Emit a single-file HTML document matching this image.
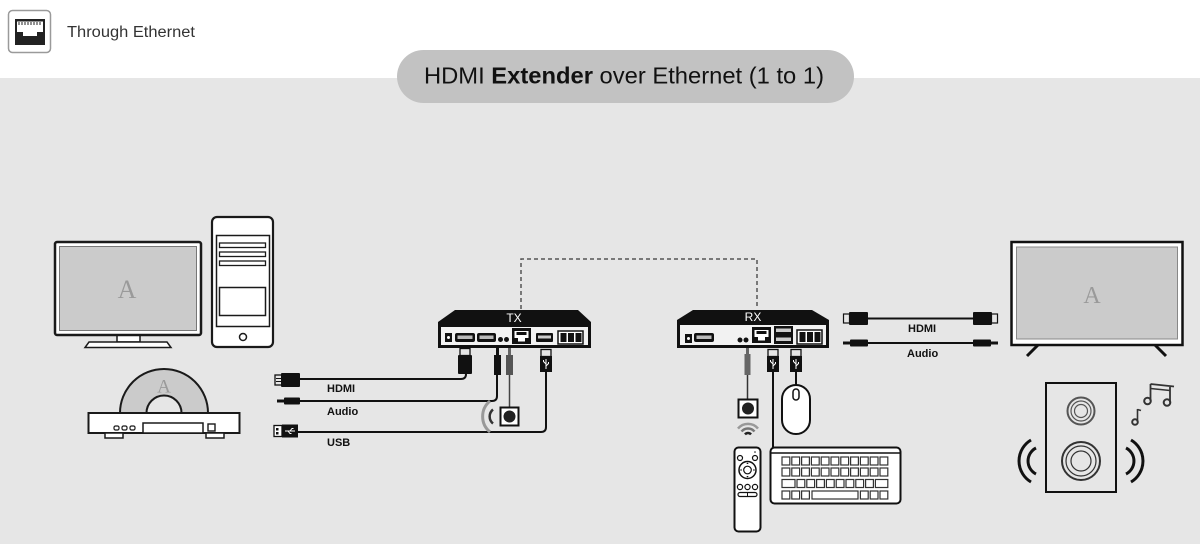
<!DOCTYPE html>
<html><head><meta charset="utf-8"><style>
html,body{margin:0;padding:0;width:1200px;height:544px;overflow:hidden;background:#e6e6e6}
svg{display:block}
text{font-family:"Liberation Sans",Arial,sans-serif}
.serif{font-family:"Liberation Serif","DejaVu Serif",serif}
</style></head><body>
<svg width="1200" height="544" viewBox="0 0 1200 544" xmlns="http://www.w3.org/2000/svg">
<rect width="1200" height="544" fill="#e6e6e6"/>
<rect width="1200" height="78" fill="#ffffff"/>

<!-- header icon -->
<rect x="8.5" y="10.5" width="42" height="42" rx="4" fill="#fff" stroke="#9a9a9a" stroke-width="1.5"/>
<rect x="15" y="19" width="30" height="26" fill="#222"/>
<path d="M17 21.5 H43 V32 H37 V36 H23 V32 H17 Z" fill="#fff"/>
<g stroke="#222" stroke-width="1">
<line x1="19" y1="22" x2="19" y2="25"/><line x1="22" y1="22" x2="22" y2="25"/><line x1="25" y1="22" x2="25" y2="25"/><line x1="28" y1="22" x2="28" y2="25"/><line x1="31" y1="22" x2="31" y2="25"/><line x1="34" y1="22" x2="34" y2="25"/><line x1="37" y1="22" x2="37" y2="25"/><line x1="40" y1="22" x2="40" y2="25"/>
</g>
<text x="67" y="37" font-size="15.5" fill="#333" textLength="128" lengthAdjust="spacingAndGlyphs">Through Ethernet</text>

<!-- title pill -->
<rect x="397" y="50" width="457" height="53" rx="26.5" fill="#c2c2c2"/>
<text x="424" y="83.5" font-size="23" fill="#111" textLength="400" lengthAdjust="spacingAndGlyphs">HDMI <tspan font-weight="bold">Extender</tspan> over Ethernet (1 to 1)</text>

<!-- left monitor -->
<rect x="55" y="242" width="146" height="93" rx="2" fill="#fff" stroke="#1a1a1a" stroke-width="2.5"/>
<rect x="59.5" y="246.5" width="137" height="84" fill="#cbcbcb" stroke="#777" stroke-width="1"/>
<text x="127" y="298" class="serif" font-size="26" fill="#9a9a9a" text-anchor="middle">A</text>
<rect x="117" y="335.5" width="23" height="6.5" fill="#fff" stroke="#1a1a1a" stroke-width="1.5"/>
<path d="M89 342 H167 L171 347.5 H85 Z" fill="#fff" stroke="#1a1a1a" stroke-width="1.5"/>

<!-- PC tower -->
<rect x="212" y="217" width="61" height="130" rx="5" fill="#fff" stroke="#1a1a1a" stroke-width="2.2"/>
<rect x="216.5" y="235.5" width="53" height="91" fill="#fff" stroke="#1a1a1a" stroke-width="1.5"/>
<rect x="219.5" y="243" width="46" height="4.5" fill="#fff" stroke="#1a1a1a" stroke-width="1.3"/>
<rect x="219.5" y="252" width="46" height="4.5" fill="#fff" stroke="#1a1a1a" stroke-width="1.3"/>
<rect x="219.5" y="261" width="46" height="4.5" fill="#fff" stroke="#1a1a1a" stroke-width="1.3"/>
<rect x="219.5" y="287.5" width="46" height="28" fill="#fff" stroke="#1a1a1a" stroke-width="1.5"/>
<circle cx="243" cy="337" r="3.5" fill="none" stroke="#1a1a1a" stroke-width="1.5"/>

<!-- DVD player -->
<path d="M120 413 A44 44 0 0 1 208 413 Z" fill="#cbcbcb" stroke="#1a1a1a" stroke-width="2"/>
<path d="M146.5 413 A17.5 17.5 0 0 1 181.5 413 Z" fill="#e6e6e6" stroke="#1a1a1a" stroke-width="2"/>
<text x="164" y="392.5" class="serif" font-size="19" fill="#9a9a9a" text-anchor="middle">A</text>
<rect x="88.5" y="413" width="151" height="20" fill="#fff" stroke="#1a1a1a" stroke-width="2"/>
<rect x="105" y="433" width="18" height="5" fill="#fff" stroke="#1a1a1a" stroke-width="1.5"/>
<rect x="206" y="433" width="18" height="5" fill="#fff" stroke="#1a1a1a" stroke-width="1.5"/>
<rect x="114" y="426" width="5" height="4" rx="1.5" fill="#fff" stroke="#1a1a1a" stroke-width="1.2"/>
<rect x="122" y="426" width="5" height="4" rx="1.5" fill="#fff" stroke="#1a1a1a" stroke-width="1.2"/>
<rect x="130" y="426" width="5" height="4" rx="1.5" fill="#fff" stroke="#1a1a1a" stroke-width="1.2"/>
<rect x="143" y="423" width="60" height="10" fill="#fff" stroke="#1a1a1a" stroke-width="1.5"/>
<rect x="208" y="424" width="7" height="7" fill="#fff" stroke="#1a1a1a" stroke-width="1.4"/>

<!-- dashed ethernet link -->
<path d="M521 309 V259 H757 V309" fill="none" stroke="#555" stroke-width="1.5" stroke-dasharray="4 3"/>

<!-- TX box -->
<path d="M438 322 L455 310 H578 L591 322 V348 H438 Z" fill="#111"/>
<rect x="441" y="327" width="147" height="18" fill="#f2f2f2"/>
<text x="514" y="322" font-size="12" fill="#fff" text-anchor="middle">TX</text>
<rect x="445" y="333" width="7" height="9" fill="#111"/><circle cx="448.5" cy="337.5" r="1.5" fill="#fff"/>
<rect x="455" y="333" width="20" height="9" rx="2" fill="#111"/><rect x="457.5" y="335.5" width="15" height="3.5" fill="#bbb"/>
<rect x="477" y="333" width="19" height="9" rx="2" fill="#111"/><rect x="479.5" y="335.5" width="14" height="3.5" fill="#bbb"/>
<circle cx="500.5" cy="339.5" r="2.5" fill="#111"/><circle cx="506.5" cy="339.5" r="2.5" fill="#111"/>
<rect x="512" y="328" width="19" height="16" fill="#111"/><path d="M514.5 331 H528.5 V338 H525 V341.5 H518 V338 H514.5 Z" fill="#fff"/><rect x="516.5" y="332" width="10" height="3" fill="#111"/>
<rect x="536" y="333" width="17" height="9" rx="1" fill="#111"/><rect x="538" y="335.5" width="13" height="3" fill="#ccc"/>
<rect x="558" y="331" width="25" height="13" fill="#fff" stroke="#111" stroke-width="1.5"/>
<rect x="560.5" y="333" width="6" height="9" fill="#111"/><rect x="568" y="333" width="6" height="9" fill="#111"/><rect x="575.5" y="333" width="6" height="9" fill="#111"/>

<!-- TX plugs & cables -->
<path d="M300 379 H461 Q466 379 466 374" fill="none" stroke="#111" stroke-width="2"/>
<path d="M300 401 H492 Q497 401 497 396 V375" fill="none" stroke="#111" stroke-width="2"/>
<path d="M298 432 H541 Q546 432 546 427 V372" fill="none" stroke="#111" stroke-width="2"/>
<line x1="509.5" y1="375" x2="509.5" y2="408" stroke="#444" stroke-width="1.5"/>
<rect x="460" y="348.5" width="10" height="7" fill="#e6e6e6" stroke="#111" stroke-width="1.3"/>
<rect x="458" y="355" width="14" height="19" rx="1" fill="#111"/>
<rect x="496" y="348" width="3" height="8" fill="#111"/><rect x="494" y="355" width="7" height="20" fill="#111"/>
<rect x="508" y="348" width="3" height="8" fill="#666"/><rect x="506" y="355" width="7" height="20" fill="#555"/>
<rect x="541" y="349.5" width="10" height="7" fill="#e6e6e6" stroke="#111" stroke-width="1.3"/>
<rect x="540" y="356" width="12" height="16" fill="#111"/>
<path d="M546 359 V369 M546 364 L543.5 361.5 V360 M546 366 L548.5 363.5 V362" stroke="#fff" stroke-width="1" fill="none"/>
<rect x="500.5" y="407.5" width="18" height="18" fill="#fff" stroke="#111" stroke-width="2"/>
<circle cx="509.5" cy="416.5" r="6" fill="#222"/>
<path d="M490 401 A20 20 0 0 0 490 432" fill="none" stroke="#999" stroke-width="3"/>
<path d="M493 409.5 A9 9 0 0 0 493 423.5" fill="none" stroke="#333" stroke-width="2.5"/>
<rect x="275" y="375" width="7" height="10" fill="#e6e6e6" stroke="#111" stroke-width="1.3"/>
<line x1="276" y1="378.5" x2="281" y2="378.5" stroke="#111" stroke-width="1"/><line x1="276" y1="381.5" x2="281" y2="381.5" stroke="#111" stroke-width="1"/>
<rect x="281" y="373" width="19" height="14" rx="1" fill="#111"/>
<rect x="277" y="399.5" width="8" height="3" fill="#111"/>
<rect x="284" y="397.5" width="16" height="7" rx="1" fill="#111"/>
<rect x="274" y="425.5" width="8" height="11" fill="#fff" stroke="#111" stroke-width="1.3"/>
<rect x="276" y="428" width="2.5" height="2.5" fill="#111"/><rect x="276" y="432" width="2.5" height="2.5" fill="#111"/>
<rect x="282" y="424.5" width="16" height="13" fill="#111"/>
<path d="M285 431 H295 M290 431 L292 428.5 H293.5 M288 431 L290 433.5 H291.5" stroke="#fff" stroke-width="1" fill="none"/>
<text x="327" y="392" font-size="11" font-weight="bold" fill="#111">HDMI</text>
<text x="327" y="415" font-size="11" font-weight="bold" fill="#111">Audio</text>
<text x="327" y="446" font-size="11" font-weight="bold" fill="#111">USB</text>

<!-- RX box -->
<path d="M677 320 L693 310 H812 L829 320 V348 H677 Z" fill="#111"/>
<rect x="680" y="325" width="146" height="20" fill="#f2f2f2"/>
<text x="753" y="321" font-size="12" fill="#fff" text-anchor="middle">RX</text>
<rect x="685" y="334" width="7" height="9" fill="#111"/><circle cx="688.5" cy="338.5" r="1.5" fill="#fff"/>
<rect x="694" y="333" width="20" height="9" rx="2" fill="#111"/><rect x="696.5" y="335.5" width="15" height="3.5" fill="#bbb"/>
<circle cx="740" cy="340" r="2.5" fill="#111"/><circle cx="746" cy="340" r="2.5" fill="#111"/>
<rect x="752" y="327" width="19" height="16" fill="#111"/><path d="M754.5 330 H768.5 V337 H765 V340.5 H758 V337 H754.5 Z" fill="#fff"/><rect x="756.5" y="331" width="10" height="3" fill="#111"/>
<rect x="774" y="326" width="19" height="18" fill="#111"/>
<rect x="776" y="328.5" width="15" height="3.5" fill="#ccc"/><rect x="776" y="337.5" width="15" height="3.5" fill="#ccc"/>
<rect x="797" y="330" width="25" height="14" fill="#fff" stroke="#111" stroke-width="1.5"/>
<rect x="799.5" y="332" width="6" height="10" fill="#111"/><rect x="807" y="332" width="6" height="10" fill="#111"/><rect x="814.5" y="332" width="6" height="10" fill="#111"/>

<!-- RX plugs -->
<rect x="746" y="348" width="3" height="7" fill="#666"/><rect x="744.5" y="354" width="6" height="21" fill="#666"/>
<line x1="747.5" y1="375" x2="747.5" y2="400" stroke="#333" stroke-width="1.5"/>
<rect x="738.5" y="399.5" width="19" height="18" fill="#fff" stroke="#111" stroke-width="2"/>
<circle cx="748" cy="408.5" r="6" fill="#222"/>
<rect x="768" y="349.5" width="10" height="7" fill="#e6e6e6" stroke="#111" stroke-width="1.3"/>
<rect x="767" y="356" width="12" height="16" fill="#111"/>
<path d="M773 359 V369 M773 364 L770.5 361.5 V360 M773 366 L775.5 363.5 V362" stroke="#fff" stroke-width="1" fill="none"/>
<rect x="791" y="349.5" width="10" height="7" fill="#e6e6e6" stroke="#111" stroke-width="1.3"/>
<rect x="790" y="356" width="12" height="16" fill="#111"/>
<path d="M796 359 V369 M796 364 L793.5 361.5 V360 M796 366 L798.5 363.5 V362" stroke="#fff" stroke-width="1" fill="none"/>
<line x1="773" y1="372" x2="773" y2="448" stroke="#111" stroke-width="2"/>
<line x1="796" y1="372" x2="796" y2="386" stroke="#111" stroke-width="2"/>

<!-- mouse -->
<rect x="782" y="385" width="28" height="49" rx="14" fill="#fff" stroke="#111" stroke-width="2"/>
<rect x="793" y="389" width="6" height="11" rx="3" fill="#fff" stroke="#111" stroke-width="1.5"/>

<!-- wifi & remote -->
<path d="M738 428.6 A13 13 0 0 1 758 428.6" fill="none" stroke="#999" stroke-width="2.5"/>
<path d="M741.5 431.5 A8.5 8.5 0 0 1 754.5 431.5" fill="none" stroke="#777" stroke-width="2.5"/>
<path d="M745 434.4 A4 4 0 0 1 751 434.4" fill="none" stroke="#222" stroke-width="2.5"/>
<rect x="734.5" y="447.5" width="26" height="84" rx="4" fill="#fff" stroke="#111" stroke-width="2"/>
<circle cx="740" cy="458" r="2.5" fill="#fff" stroke="#111" stroke-width="1.2"/>
<circle cx="755" cy="458" r="2.5" fill="#fff" stroke="#111" stroke-width="1.2"/>
<circle cx="755" cy="452" r="0.8" fill="#111"/>
<circle cx="747.5" cy="470" r="8.5" fill="#fff" stroke="#111" stroke-width="1.5"/>
<circle cx="747.5" cy="470" r="3.8" fill="#fff" stroke="#111" stroke-width="1.2"/>
<path d="M747.5 462.5 l-1.2 1.5 h2.4 Z M747.5 477.5 l-1.2 -1.5 h2.4 Z M740 470 l1.5 -1.2 v2.4 Z M755 470 l-1.5 -1.2 v2.4 Z" fill="#111"/>
<circle cx="740" cy="487" r="2.6" fill="#fff" stroke="#111" stroke-width="1.2"/>
<circle cx="747.5" cy="487" r="2.6" fill="#fff" stroke="#111" stroke-width="1.2"/>
<circle cx="755" cy="487" r="2.6" fill="#fff" stroke="#111" stroke-width="1.2"/>
<rect x="738" y="492.5" width="19" height="4" rx="2" fill="#fff" stroke="#111" stroke-width="1.2"/>
<line x1="747.5" y1="492.5" x2="747.5" y2="496.5" stroke="#111" stroke-width="1"/>

<!-- keyboard -->
<rect x="770.5" y="447.5" width="130" height="56" rx="4" fill="#fff" stroke="#111" stroke-width="2"/>
<line x1="771" y1="453" x2="900" y2="453" stroke="#111" stroke-width="1.5"/>
<g fill="#fff" stroke="#333" stroke-width="1.2">
<rect x="782" y="457" width="7.8" height="8"/><rect x="791.8" y="457" width="7.8" height="8"/><rect x="801.6" y="457" width="7.8" height="8"/><rect x="811.4" y="457" width="7.8" height="8"/><rect x="821.2" y="457" width="7.8" height="8"/><rect x="831" y="457" width="7.8" height="8"/><rect x="840.8" y="457" width="7.8" height="8"/><rect x="850.6" y="457" width="7.8" height="8"/><rect x="860.4" y="457" width="7.8" height="8"/><rect x="870.2" y="457" width="7.8" height="8"/><rect x="880" y="457" width="7.8" height="8"/>
<rect x="782" y="468" width="7.8" height="8"/><rect x="791.8" y="468" width="7.8" height="8"/><rect x="801.6" y="468" width="7.8" height="8"/><rect x="811.4" y="468" width="7.8" height="8"/><rect x="821.2" y="468" width="7.8" height="8"/><rect x="831" y="468" width="7.8" height="8"/><rect x="840.8" y="468" width="7.8" height="8"/><rect x="850.6" y="468" width="7.8" height="8"/><rect x="860.4" y="468" width="7.8" height="8"/><rect x="870.2" y="468" width="7.8" height="8"/><rect x="880" y="468" width="7.8" height="8"/>
<rect x="782" y="479.5" width="13" height="8"/><rect x="797" y="479.5" width="7.8" height="8"/><rect x="806.8" y="479.5" width="7.8" height="8"/><rect x="816.6" y="479.5" width="7.8" height="8"/><rect x="826.4" y="479.5" width="7.8" height="8"/><rect x="836.2" y="479.5" width="7.8" height="8"/><rect x="846" y="479.5" width="7.8" height="8"/><rect x="855.8" y="479.5" width="7.8" height="8"/><rect x="865.6" y="479.5" width="7.8" height="8"/><rect x="875.4" y="479.5" width="12.4" height="8"/>
<rect x="782" y="491" width="7.8" height="8"/><rect x="791.8" y="491" width="7.8" height="8"/><rect x="801.6" y="491" width="7.8" height="8"/><rect x="812" y="491" width="46" height="8"/><rect x="860.4" y="491" width="7.8" height="8"/><rect x="870.2" y="491" width="7.8" height="8"/><rect x="880" y="491" width="7.8" height="8"/>
</g>

<!-- right cables -->
<line x1="868" y1="318.5" x2="973" y2="318.5" stroke="#111" stroke-width="2"/>
<rect x="843.5" y="314" width="6" height="9" fill="#e6e6e6" stroke="#111" stroke-width="1.2"/>
<rect x="849" y="312" width="19" height="13" rx="1" fill="#111"/>
<rect x="973" y="312" width="19" height="13" rx="1" fill="#111"/>
<rect x="991.5" y="314" width="6" height="9" fill="#e6e6e6" stroke="#111" stroke-width="1.2"/>
<line x1="868" y1="343" x2="973" y2="343" stroke="#111" stroke-width="2"/>
<rect x="843" y="341.5" width="8" height="3" fill="#111"/>
<rect x="850" y="339.5" width="18" height="7" rx="1" fill="#111"/>
<rect x="973" y="339.5" width="18" height="7" rx="1" fill="#111"/>
<rect x="990" y="341.5" width="8" height="3" fill="#111"/>
<text x="908" y="332" font-size="11" font-weight="bold" fill="#111">HDMI</text>
<text x="907" y="357" font-size="11" font-weight="bold" fill="#111">Audio</text>

<!-- TV -->
<rect x="1011.5" y="242" width="171" height="103" fill="#fff" stroke="#111" stroke-width="2.5"/>
<rect x="1016.5" y="247" width="161" height="92" fill="#cbcbcb" stroke="#888" stroke-width="1"/>
<text x="1092" y="303" class="serif" font-size="24" fill="#9a9a9a" text-anchor="middle">A</text>
<path d="M1038 345 L1027 356" stroke="#111" stroke-width="3"/>
<path d="M1155 345 L1166 356" stroke="#111" stroke-width="3"/>

<!-- speaker -->
<rect x="1046" y="383" width="70" height="109" fill="none" stroke="#111" stroke-width="2"/>
<circle cx="1081" cy="411" r="13.5" fill="none" stroke="#555" stroke-width="2"/>
<circle cx="1081" cy="411" r="10" fill="none" stroke="#555" stroke-width="1.2"/>
<circle cx="1081" cy="411" r="6.5" fill="none" stroke="#555" stroke-width="1.2"/>
<circle cx="1081" cy="461" r="19" fill="none" stroke="#333" stroke-width="2"/>
<circle cx="1081" cy="461" r="15" fill="none" stroke="#333" stroke-width="1.2"/>
<circle cx="1081" cy="461" r="10" fill="none" stroke="#333" stroke-width="1.2"/>
<path d="M1031 440 A24.4 24.4 0 0 0 1031 482" fill="none" stroke="#111" stroke-width="3"/>
<path d="M1036 448 A14.6 14.6 0 0 0 1036 474" fill="none" stroke="#111" stroke-width="3"/>
<path d="M1131 440 A24.4 24.4 0 0 1 1131 482" fill="none" stroke="#111" stroke-width="3"/>
<path d="M1126 448 A14.6 14.6 0 0 1 1126 474" fill="none" stroke="#111" stroke-width="3"/>
<g stroke="#333" fill="none">
<circle cx="1147.5" cy="401" r="3.3" stroke-width="2"/>
<circle cx="1167" cy="402.5" r="3.3" stroke-width="2"/>
<line x1="1150.5" y1="401" x2="1150.5" y2="384" stroke-width="1.8"/>
<line x1="1170" y1="402.5" x2="1170" y2="387" stroke-width="1.8"/>
<line x1="1150.5" y1="384" x2="1174" y2="386.5" stroke-width="1.8"/>
<line x1="1150.5" y1="388.5" x2="1170" y2="390.5" stroke-width="1.5"/>
<circle cx="1135" cy="422" r="2.8" stroke-width="2"/>
<line x1="1137.5" y1="422" x2="1137.5" y2="409" stroke-width="1.6"/>
<line x1="1137.5" y1="409.5" x2="1141" y2="410.5" stroke-width="1.6"/>
</g>
</svg>
</body></html>
